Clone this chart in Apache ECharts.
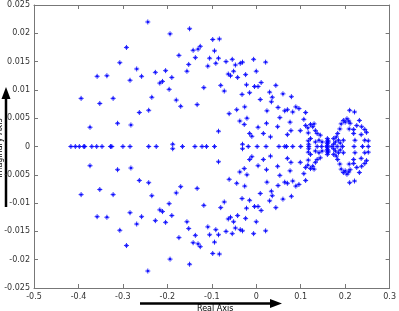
<!DOCTYPE html>
<html>
<head>
<meta charset="utf-8">
<script src="https://cdn.jsdelivr.net/npm/echarts@6/dist/echarts.min.js"></script>
<style>html,body{margin:0;padding:0;background:#fff;}#c{width:399px;height:311px;}</style>
</head>
<body>
<div id="c"></div>
<script>
// Real eigenvalues (on the real axis)
const realX = [-0.417,-0.407,-0.398,-0.388,-0.386,-0.370,-0.359,-0.347,-0.328,-0.325,-0.300,-0.284,
  -0.242,-0.225,-0.166,-0.138,-0.122,-0.112,-0.094,-0.018,0.002,0.022,0.051,0.064,0.068,0.082,0.100,
  0.118,0.137,0.147,0.159,0.170,0.182,0.194,0.220,0.239,0.252];
// Complex-conjugate pairs: real part and positive imaginary part
const pairRe = [-0.244,-0.292,-0.307,-0.269,-0.227,-0.358,-0.336,-0.284,-0.258,-0.217,-0.211,-0.394,-0.322,
  -0.352,-0.235,-0.242,-0.263,-0.374,-0.312,-0.282,-0.204,-0.190,-0.196,-0.180,-0.170,-0.174,-0.156,-0.152,
  -0.142,-0.137,-0.131,-0.133,-0.194,-0.150,-0.126,-0.098,-0.083,-0.094,-0.105,-0.085,-0.091,-0.109,-0.068,
  -0.054,-0.047,-0.036,-0.031,-0.006,0.021,0.000,0.011,-0.024,-0.063,-0.058,-0.051,-0.042,-0.118,-0.080,
  -0.072,-0.032,-0.022,-0.015,-0.004,0.004,0.009,0.030,0.044,0.060,0.079,0.036,0.034,-0.061,-0.044,-0.026,
  -0.021,-0.037,-0.027,-0.085,0.004,0.023,0.024,0.049,0.064,0.070,0.082,0.089,0.096,0.107,0.053,0.076,
  0.048,-0.015,-0.010,0.016,0.032,0.070,0.078,0.099,0.117,0.117,0.116,0.122,0.127,0.130,0.133,0.111,0.144,
  0.141,0.148,0.210,0.221,0.204,0.196,0.208,0.191,0.211,0.232,0.226,0.237,0.188,0.219,0.244,0.248,0.183,
  0.180,0.222,0.244,0.252,0.209,0.219,0.236,0.200,0.174,0.178,0.174,0.185,0.189,0.196,0.162,0.160,0.160,
  0.159,0.161,0.160,-0.188,-0.031,0.122,0.133,0.137,0.111,0.118];
const pairIm = [0.0220,0.0175,0.0148,0.0137,0.0131,0.0124,0.0125,0.0117,0.0124,0.0112,0.0115,0.0085,0.0085,
  0.0076,0.0087,0.0064,0.0060,0.0034,0.0041,0.0038,0.0134,0.0122,0.0101,0.0082,0.0071,0.0161,0.0133,0.0145,
  0.0170,0.0157,0.0172,0.0074,0.0199,0.0208,0.0177,0.0189,0.0190,0.0169,0.0156,0.0156,0.0147,0.0142,0.0150,
  0.0154,0.0144,0.0147,0.0149,0.0154,0.0149,0.0133,0.0113,0.0127,0.0128,0.0125,0.0133,0.0122,0.0104,0.0108,
  0.0098,0.0092,0.0109,0.0095,0.0106,0.0106,0.0083,0.0096,0.0108,0.0093,0.0088,0.0087,0.0079,0.0058,0.0065,
  0.0070,0.0050,0.0045,0.0039,0.0027,0.0034,0.0041,0.0063,0.0069,0.0063,0.0065,0.0061,0.0070,0.0067,0.0048,
  0.0051,0.0043,0.0035,0.0023,0.0018,0.0023,0.0017,0.0021,0.0028,0.0028,0.0024,0.0010,0.0033,0.0039,0.0035,
  0.0040,0.0028,0.0060,0.0020,0.0011,0.0008,0.0064,0.0061,0.0049,0.0046,0.0045,0.0040,0.0041,0.0046,0.0037,
  0.0035,0.0031,0.0030,0.0030,0.0025,0.0023,0.0017,0.0011,0.0011,0.0010,0.0031,0.0023,0.0021,0.0043,0.0014,
  0.0008,0.0004,0.0011,0.0006,0.0011,0.0008,0.0002,0.0005,0.0008,0.0011,0.0014,0.0004,0.0004,0.0014,0.0008,
  0.0023,0.0037,0.0004];
const xTicks = ['-0.5','-0.4','-0.3','-0.2','-0.1','0','0.1','0.2','0.3'];
const yTicks = ['-0.025','-0.02','-0.015','-0.01','-0.005','0','0.005','0.01','0.015','0.02','0.025'];
const xLabel = 'Real Axis';
const yLabel = 'Imaginary Axis';

const pts = realX.map(x => [x, 0]);
pairRe.forEach((x, i) => { pts.push([x, pairIm[i]]); pts.push([x, -pairIm[i]]); });

const chart = echarts.init(document.getElementById('c'));
const axisLine = { show: true, onZero: false, lineStyle: { color: '#777', width: 1 } };
const tick = { show: true, inside: true, length: 4, lineStyle: { color: '#777' } };
const lblStyle = { color: '#333', fontSize: 8, fontFamily: 'DejaVu Sans' };
const xfmt = v => { const i = Math.round((v + 0.5) / 0.1); return xTicks[i] !== undefined ? xTicks[i] : ''; };
const yfmt = v => { const i = Math.round((v + 0.025) / 0.005); return yTicks[i] !== undefined ? yTicks[i] : ''; };
chart.setOption({
  animation: false,
  grid: { left: 34, right: 6, top: 5, bottom: 23, containLabel: false },
  xAxis: [
    { type: 'value', min: -0.5, max: 0.3, interval: 0.1, position: 'bottom',
      axisLine, axisTick: tick, splitLine: { show: false },
      axisLabel: Object.assign({ formatter: xfmt, margin: 5 }, lblStyle) },
    { type: 'value', min: -0.5, max: 0.3, interval: 0.1, position: 'top',
      axisLine, axisTick: tick, splitLine: { show: false }, axisLabel: { show: false } }
  ],
  yAxis: [
    { type: 'value', min: -0.025, max: 0.025, interval: 0.005, position: 'left',
      axisLine, axisTick: tick, splitLine: { show: false },
      axisLabel: Object.assign({ formatter: yfmt, margin: 4 }, lblStyle) },
    { type: 'value', min: -0.025, max: 0.025, interval: 0.005, position: 'right',
      axisLine, axisTick: tick, splitLine: { show: false }, axisLabel: { show: false } }
  ],
  series: [{
    type: 'scatter',
    data: pts,
    symbol: 'path://M5,0L5,10M0,5L10,5M2.5,2.5L7.5,7.5M2.5,7.5L7.5,2.5',
    symbolSize: 5,
    itemStyle: { color: '#0000ff', borderColor: '#0000ff', borderWidth: 1, opacity: 0.85 }
  }],
  graphic: [
    { type: 'line', shape: { x1: 140, y1: 303.5, x2: 272, y2: 303.5 }, style: { stroke: '#000', lineWidth: 2.5 } },
    { type: 'polygon', shape: { points: [[270, 299], [282, 303.5], [270, 308]] }, style: { fill: '#000' } },
    { type: 'text', left: 197, top: 305, style: { text: xLabel, fontSize: 8, fill: '#000', fontFamily: 'DejaVu Sans' } },
    { type: 'line', shape: { x1: 6, y1: 207, x2: 6, y2: 97 }, style: { stroke: '#000', lineWidth: 2.5 } },
    { type: 'polygon', shape: { points: [[1.5, 99], [6, 87], [10.5, 99]] }, style: { fill: '#000' } },
    { type: 'text', x: 0, y: 148, rotation: Math.PI / 2,
      style: { text: yLabel, fontSize: 8, fill: '#000', fontFamily: 'DejaVu Sans', align: 'center', verticalAlign: 'middle' } }
  ]
});
</script>
</body>
</html>
